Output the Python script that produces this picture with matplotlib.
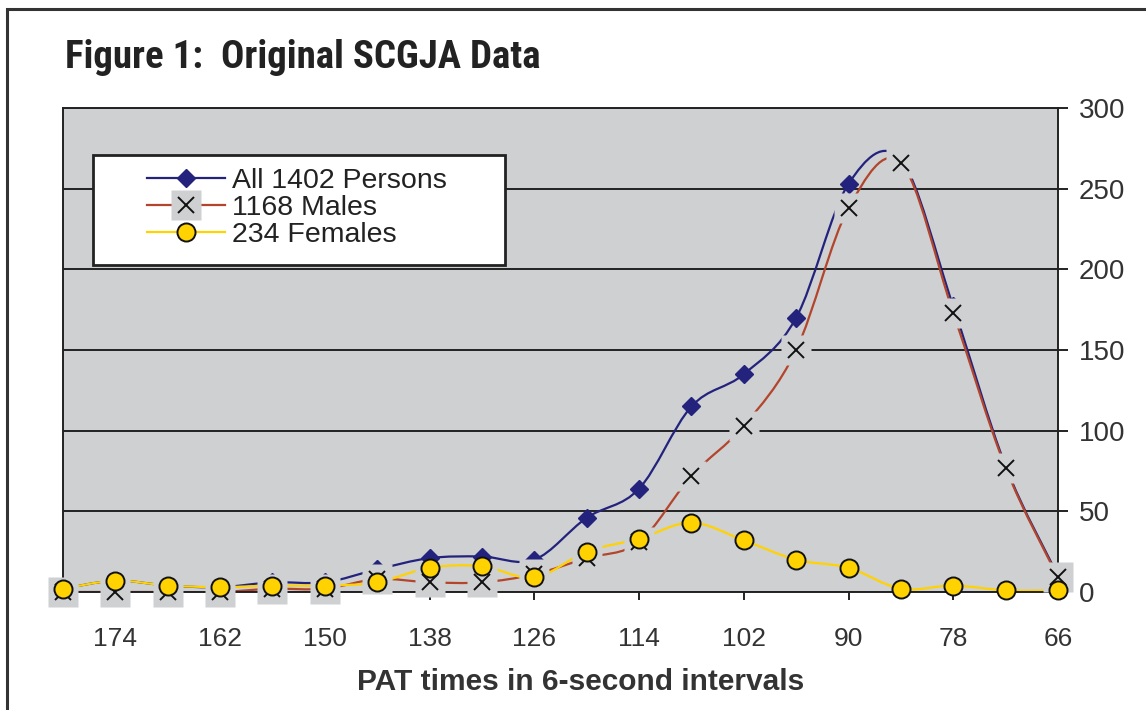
import numpy as np
import matplotlib
matplotlib.use('Agg')
import matplotlib.pyplot as plt
from matplotlib.path import Path
from matplotlib.patches import PathPatch, Rectangle
from matplotlib.lines import Line2D
from matplotlib.legend_handler import HandlerTuple
from matplotlib import font_manager

# PAT times (6-second intervals) and counts
pat_times = [180, 174, 168, 162, 156, 150, 144, 138, 132, 126,
             120, 114, 108, 102, 96, 90, 84, 78, 72, 66]
all_persons = [2, 7, 4, 3, 6, 6, 14, 21, 22, 20,
               46, 64, 115, 135, 170, 253, 268, 177, 78, 10]
males = [0, 0, 0, 0, 2, 2, 8, 6, 6, 11,
         21, 31, 72, 103, 150, 238, 266, 173, 77, 9]
females = [2, 7, 4, 3, 4, 4, 6, 15, 16, 9,
           25, 33, 43, 32, 20, 15, 2, 4, 1, 1]
tick_times = [174, 162, 150, 138, 126, 114, 102, 90, 78, 66]
y_ticks = [0, 50, 100, 150, 200, 250, 300]

NAVY = '#23237e'
RED = '#b2452b'
YELLOW = '#ffd200'
PLOT_BG = '#cfd0d2'
DARK = '#222222'
TEXT = '#333333'


# Excel-style smoothed line (catmull-rom written as bezier segments)
def smooth_path(xs, ys):
    pts = np.column_stack([xs, ys]).astype(float)
    padded = np.vstack([pts[0], pts, pts[-1]])
    verts = [pts[0]]
    codes = [Path.MOVETO]
    for i in range(len(pts) - 1):
        p0, p1, p2, p3 = padded[i], padded[i + 1], padded[i + 2], padded[i + 3]
        verts += [p1 + (p2 - p0) / 6, p2 - (p3 - p1) / 6, p2]
        codes += [Path.CURVE4] * 3
    return Path(verts, codes)


# pick a condensed family for the title if one is installed
names = {f.name for f in font_manager.fontManager.ttflist}
title_family = 'Liberation Sans'
for cand in ['Liberation Sans Narrow', 'DejaVu Sans Condensed', 'Roboto Condensed',
             'Open Sans Condensed']:
    if cand in names:
        title_family = cand
        break

W, H = 1146, 710
fig = plt.figure(figsize=(W / 100, H / 100), dpi=100)
fig.patch.set_facecolor('white')
plt.rcParams['font.family'] = ['Liberation Sans', 'DejaVu Sans']

# outer frame (cut off at right and bottom)
fig.add_artist(Rectangle((7 / W, -0.1), 1.2, (1 - 9 / H) + 0.1, transform=fig.transFigure,
                         fill=False, lw=2.2, ec='#333333'))

fig.text(65 / W, 1 - 57 / H, 'Figure 1:  Original SCGJA Data',
         fontsize=28 if title_family != 'Liberation Sans' else 24,
         fontweight='heavy', fontstretch='condensed',
         family=[title_family, 'DejaVu Sans'],
         color=DARK, va='center', ha='left')

left, right, top, bottom = 63, 1058, 108, 592
ax = fig.add_axes([left / W, 1 - bottom / H, (right - left) / W, (bottom - top) / H])
ax.set_facecolor(PLOT_BG)
ax.set_xlim(180, 66)
ax.set_ylim(0, 300)

# lines first, then markers (like Excel draws them)
for ys, col in [(all_persons, NAVY), (males, RED), (females, YELLOW)]:
    ax.add_patch(PathPatch(smooth_path(pat_times, ys), fc='none', ec=col, lw=1.6, zorder=2))

ax.plot(pat_times, all_persons, ls='none', marker='D', ms=9.5, mfc=NAVY, mec=NAVY,
        zorder=3, clip_on=False)
ax.plot(pat_times, males, ls='none', marker='s', ms=21, mfc=PLOT_BG, mec='none',
        zorder=4, clip_on=False)
ax.plot(pat_times, males, ls='none', marker='x', ms=12, mew=1.4, color='#111111',
        zorder=5, clip_on=False)
ax.plot(pat_times, females, ls='none', marker='o', ms=13, mfc=YELLOW, mec='#111111',
        mew=1.4, zorder=6, clip_on=False)

ax.set_yticks(y_ticks)
ax.grid(axis='y', color=DARK, lw=1.4)
ax.set_axisbelow(True)
ax.yaxis.tick_right()
ax.tick_params(axis='y', direction='out', length=7, width=1.4, pad=8, labelsize=20,
               color=DARK, labelcolor=TEXT)
ax.set_xticks(tick_times)
ax.set_xticklabels([str(t) for t in tick_times])
ax.tick_params(axis='x', direction='out', length=6, width=1.4, pad=19, labelsize=19,
               color=DARK, labelcolor=TEXT)
for s in ax.spines.values():
    s.set_color(DARK)
    s.set_linewidth(1.4)

ax.set_xlabel('PAT times in 6-second intervals', fontsize=21.5, fontweight='bold',
              color=TEXT)
ax.xaxis.set_label_coords((581 - left) / (right - left), -(682 - bottom) / (bottom - top))
ax.xaxis.label.set_va('center')

# legend box
fig.add_artist(Rectangle((93 / W, 1 - 265 / H), (505 - 93) / W, (265 - 155) / H,
                         transform=fig.transFigure, fc='white', ec=DARK, lw=2, zorder=10))
h_all = Line2D([], [], color=NAVY, lw=1.6, marker='D', ms=9.5, mfc=NAVY, mec=NAVY)
h_sq = Line2D([], [], color=RED, lw=1.6, marker='s', ms=21, mfc=PLOT_BG, mec='none')
h_x = Line2D([], [], ls='none', marker='x', ms=12, mew=1.4, color='#111111')
h_fem = Line2D([], [], color=YELLOW, lw=1.6, marker='o', ms=13, mfc=YELLOW, mec='#111111', mew=1.4)
leg = fig.legend([h_all, (h_sq, h_x), h_fem], ['All 1402 Persons', '1168 Males', '234 Females'],
                 handler_map={tuple: HandlerTuple(ndivide=1)},
                 loc='upper left', bbox_to_anchor=(147 / W, 1 - 168 / H), frameon=False,
                 fontsize=20.5, handlelength=2.75, handletextpad=0.25, labelspacing=0.03,
                 borderpad=0, borderaxespad=0)
leg.set_zorder(11)
for t in leg.get_texts():
    t.set_color(DARK)

fig.savefig('out.png', dpi=100)
